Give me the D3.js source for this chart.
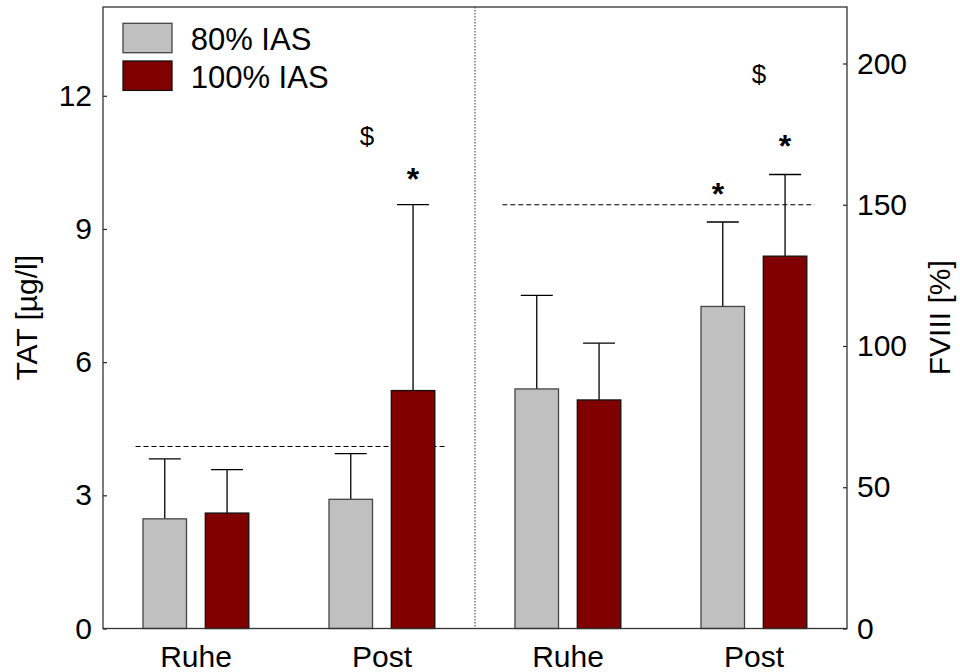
<!DOCTYPE html>
<html><head><meta charset="utf-8">
<script src="https://cdn.jsdelivr.net/npm/d3@7"></script>
<style>
body{margin:0;background:#fff;}
svg{display:block;font-family:"Liberation Sans",Arial,sans-serif;}
</style></head>
<body><svg id="c" width="960" height="672"></svg>
<script>
// ---- data ----
const slots = ["TAT_Ruhe","TAT_Post","FVIII_Ruhe","FVIII_Post"];
const slotLabels = ["Ruhe","Post","Ruhe","Post"];
const seriesNames = ["80% IAS","100% IAS"];
const seriesColors = ["#c0c0c0","#800000"];
const seriesStroke = ["#444","#111"];
const tat80 = [2.47, 2.91];
const tat80err = [3.82, 3.94];
const tat100 = [2.60, 5.36];
const tat100err = [3.58, 9.55];
const fviii80 = [84.8, 114.0];
const fviii80err = [117.9, 143.9];
const fviii100 = [80.9, 131.8];
const fviii100err = [101.0, 160.7];
const tatTicks = [0,3,6,9,12];
const fviiiTicks = [0,50,100,150,200];
const tatRef = 4.1;
const fviiiRef = 150;
// annotations
const annotations = [
  {slot:"TAT_Post", s:0, axis:"L", v:11.07, t:"$", dx:0.52},
  {slot:"TAT_Post", s:1, axis:"L", v:10.33, t:"*", dx:0},
  {slot:"FVIII_Post", s:0, axis:"R", v:196.1, t:"$", dx:1.17},
  {slot:"FVIII_Post", s:1, axis:"R", v:173.9, t:"*", dx:0},
  {slot:"FVIII_Post", s:0, axis:"R", v:156.8, t:"*", dx:-0.15}
];

const W=960,H=672;
const m={l:103,t:7,r:113,b:43.5};
const iw=W-m.l-m.r, ih=H-m.t-m.b;
const svg=d3.select("#c");
const g=svg.append("g").attr("transform",`translate(${m.l},${m.t})`);

const x=d3.scaleBand().domain(slots).range([0,iw]);
const yL=d3.scaleLinear().domain([0,14]).range([ih,0]);
const yR=d3.scaleLinear().domain([0,220]).range([ih,0]);
const bw=x.bandwidth();
const barW=bw*0.234;
const off=[-bw*0.168, bw*0.167];

const bars=[];
slots.forEach((s,i)=>{
  const isL=i<2, k=i%2;
  const vals=isL?[tat80[k],tat100[k]]:[fviii80[k],fviii100[k]];
  const errs=isL?[tat80err[k],tat100err[k]]:[fviii80err[k],fviii100err[k]];
  vals.forEach((v,j)=>bars.push({slot:s,j,v,e:errs[j],y:isL?yL:yR}));
});

// dotted separator
g.append("line").attr("x1",x("FVIII_Ruhe")).attr("x2",x("FVIII_Ruhe"))
 .attr("y1",0).attr("y2",ih).attr("stroke","#333").attr("stroke-width",1).attr("stroke-dasharray","1.5,1.5");

// reference lines
g.append("line").attr("x1",x("TAT_Ruhe")+bw*0.175).attr("x2",x("TAT_Post")+bw*0.85)
 .attr("y1",yL(tatRef)).attr("y2",yL(tatRef)).attr("stroke","#000").attr("stroke-width",1).attr("stroke-dasharray","5,3");
g.append("line").attr("x1",x("FVIII_Ruhe")+bw*0.147).attr("x2",x("FVIII_Post")+bw*0.826)
 .attr("y1",yR(fviiiRef)).attr("y2",yR(fviiiRef)).attr("stroke","#000").attr("stroke-width",1).attr("stroke-dasharray","5,3");

// error bars
const eg=g.append("g").attr("stroke","#000").attr("stroke-width",1.3);
bars.forEach(d=>{
  const cx=x(d.slot)+bw/2+off[d.j];
  eg.append("line").attr("x1",cx).attr("x2",cx).attr("y1",d.y(d.v)).attr("y2",d.y(d.e));
  eg.append("line").attr("x1",cx-16).attr("x2",cx+16).attr("y1",d.y(d.e)).attr("y2",d.y(d.e));
});
// bars
g.append("g").selectAll("rect").data(bars).join("rect")
 .attr("x",d=>x(d.slot)+bw/2+off[d.j]-barW/2).attr("width",barW)
 .attr("y",d=>d.y(d.v)).attr("height",d=>ih-d.y(d.v))
 .attr("fill",d=>seriesColors[d.j]).attr("stroke",d=>seriesStroke[d.j]).attr("stroke-width",1.3);

// axes
const axL=g.append("g").call(d3.axisLeft(yL).tickValues(tatTicks).tickSize(-4).tickPadding(11));
const axR=g.append("g").attr("transform",`translate(${iw},0)`).call(d3.axisRight(yR).tickValues(fviiiTicks).tickSize(-4).tickPadding(10));
[axL,axR].forEach(a=>{a.select(".domain").remove();a.selectAll("line").attr("stroke","#222").attr("stroke-width",1.2);
 a.selectAll("text").attr("font-size",30).attr("fill","#000").attr("font-family","Liberation Sans, Arial, sans-serif");});
// frame
g.append("rect").attr("x",0).attr("y",0).attr("width",iw).attr("height",ih).attr("fill","none").attr("stroke","#333").attr("stroke-width",1.3);

// x labels
g.append("g").selectAll("text").data(slots).join("text")
 .attr("x",d=>x(d)+bw/2).attr("y",ih+38.5).attr("text-anchor","middle").attr("font-size",30)
 .text((d,i)=>slotLabels[i]);

// axis titles
svg.append("text").attr("transform",`translate(36.5,${m.t+ih/2}) rotate(-90)`).attr("text-anchor","middle").attr("font-size",30).text("TAT [µg/l]");
svg.append("text").attr("transform",`translate(950,${m.t+ih/2}) rotate(-90)`).attr("text-anchor","middle").attr("font-size",30).text("FVIII [%]");

// annotations
annotations.forEach(a=>{
  const sc=a.axis==="L"?yL:yR;
  const cx=x(a.slot)+bw/2+off[a.s]+a.dx*bw*0.167;
  const isStar=a.t==="*";
  g.append("text").attr("x",cx).attr("y",sc(a.v)).attr("text-anchor","middle")
   .attr("dy",isStar?"0.62em":"0.32em")
   .attr("font-size",isStar?32:26).attr("font-weight",isStar?"bold":"normal").text(a.t);
});

// legend
const lg=svg.append("g").attr("transform","translate(123,23.3)");
seriesNames.forEach((n,i)=>{
  lg.append("rect").attr("x",0).attr("y",i*37.7).attr("width",49).attr("height",29.4)
    .attr("fill",seriesColors[i]).attr("stroke",seriesStroke[i]).attr("stroke-width",1.3);
  lg.append("text").attr("x",67.7).attr("y",i*37.7+26.8).attr("font-size",31).text(n);
});
</script></body></html>
